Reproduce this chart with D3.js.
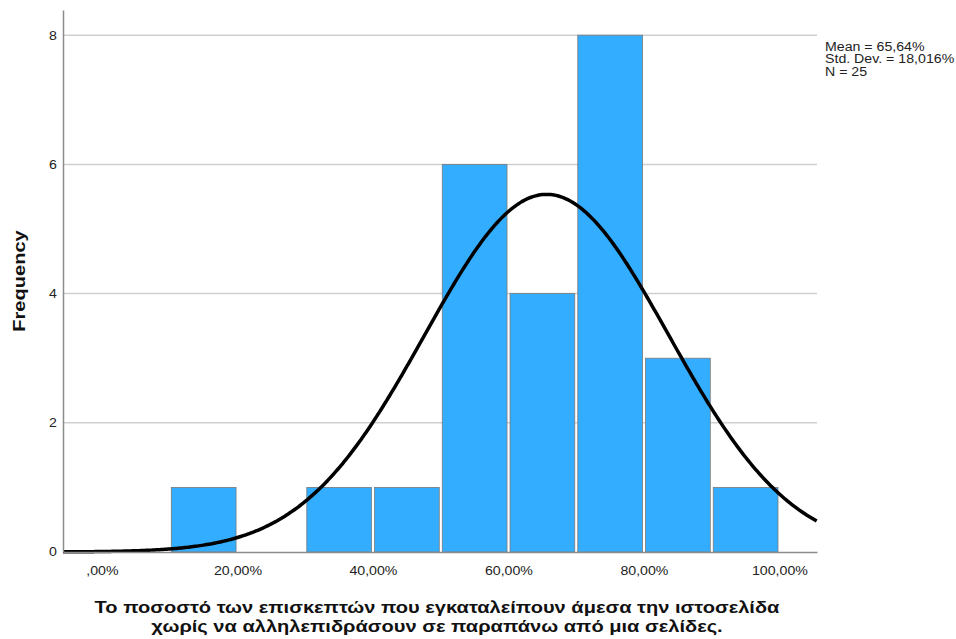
<!DOCTYPE html>
<html lang="el">
<head>
  <meta charset="UTF-8">
  <title>Histogram</title>
  <script src="https://d3js.org/d3.v7.min.js"></script>
  <style>
    body { margin: 0; background: #fff; font-family: "Liberation Sans", Arial, sans-serif; }
    .tick text { font-size: 12px; fill: #222; font-family: "Liberation Sans", Arial, sans-serif; }
    .axis-title { font-size: 17px; font-weight: bold; fill: #111; }
    .stats { font-size: 12px; fill: #222; }
  </style>
</head>
<body>
  <svg width="956" height="639"></svg>
  <script>
    // bins of 10% and their counts
    var binStarts = [0, 10, 20, 30, 40, 50, 60, 70, 80, 90];
    var counts    = [0, 1, 0, 1, 1, 6, 4, 8, 3, 1];
    var binWidth = 10;
    var mean = 65.64, stdDev = 18.016, n = 25;
    var xTicks = [0, 20, 40, 60, 80, 100];
    var yTicks = [0, 2, 4, 6, 8];
    var statLines = ["Mean = 65,64%", "Std. Dev. = 18,016%", "N = 25"];
    var titleLines = [
      "Το ποσοστό των επισκεπτών που εγκαταλείπουν άμεσα την ιστοσελίδα",
      "χωρίς να αλληλεπιδράσουν σε παραπάνω από μια σελίδες."
    ];

    var svg = d3.select("svg"),
        plotL = 63, plotR = 817, plotT = 10, plotB = 552,
        stretch = 1.18;  // the original text is a bit wider than Arial

    function widen(sel) {
      sel.each(function() {
        var w = this.getComputedTextLength();
        d3.select(this).attr("textLength", w * stretch).attr("lengthAdjust", "spacingAndGlyphs");
      });
    }

    var x = d3.scaleLinear().domain([-5.75, 105.55]).range([plotL, plotR]);
    var y = d3.scaleLinear().domain([0, 8.39]).range([plotB, plotT]);

    // gridlines
    svg.append("g").selectAll("line")
      .data(yTicks.filter(function(d) { return d > 0; }))
      .enter().append("line")
      .attr("x1", plotL).attr("x2", plotR)
      .attr("y1", function(d) { return y(d); })
      .attr("y2", function(d) { return y(d); })
      .attr("stroke", "#cfcfcf").attr("stroke-width", 1.5);

    // bars
    var bins = binStarts.map(function(s, i) { return {lo: s, hi: s + binWidth, c: counts[i]}; })
      .filter(function(d) { return d.c > 0; });
    svg.append("g").selectAll("rect")
      .data(bins)
      .enter().append("rect")
      .attr("x", function(d) { return x(d.lo) + 1.6; })
      .attr("width", function(d) { return x(d.hi) - x(d.lo) - 3; })
      .attr("y", function(d) { return y(d.c); })
      .attr("height", function(d) { return y(0) - y(d.c); })
      .attr("fill", "#33adff")
      .attr("stroke", "#7a7a7a").attr("stroke-width", 0.8);

    // fitted normal curve
    var peak = n * binWidth / (stdDev * Math.sqrt(2 * Math.PI));
    var curvePts = d3.range(x.domain()[0], x.domain()[1] + 0.01, 0.25).map(function(v) {
      var z = (v - mean) / stdDev;
      return [v, peak * Math.exp(-0.5 * z * z)];
    });
    svg.append("path")
      .datum(curvePts)
      .attr("fill", "none")
      .attr("stroke", "#000")
      .attr("stroke-width", 3.5)
      .attr("d", d3.line().x(function(d) { return x(d[0]); }).y(function(d) { return y(d[1]); }));

    // axes
    var xAxis = svg.append("g")
      .attr("transform", "translate(0," + plotB + ")")
      .call(d3.axisBottom(x).tickValues(xTicks).tickSize(0).tickPadding(14)
        .tickFormat(function(d) { return d === 0 ? ",00%" : d + ",00%"; }));
    xAxis.select(".domain").attr("stroke", "#8c8c8c").attr("stroke-width", 1.5);
    xAxis.selectAll("text").call(widen);

    var yAxis = svg.append("g")
      .attr("transform", "translate(" + plotL + ",0)")
      .call(d3.axisLeft(y).tickValues(yTicks).tickSize(0).tickPadding(6));
    yAxis.select(".domain").attr("stroke", "#8c8c8c").attr("stroke-width", 1.5);
    yAxis.selectAll("text").call(widen);

    // axis titles
    svg.append("text")
      .attr("class", "axis-title")
      .attr("transform", "translate(25,281) rotate(-90)")
      .attr("text-anchor", "middle")
      .text("Frequency")
      .call(widen);

    svg.append("g").selectAll("text")
      .data(titleLines)
      .enter().append("text")
      .attr("class", "axis-title")
      .attr("x", 437)
      .attr("y", function(d, i) { return 613 + i * 19; })
      .attr("text-anchor", "middle")
      .text(function(d) { return d; })
      .call(widen);

    // stats box
    svg.append("g").selectAll("text")
      .data(statLines)
      .enter().append("text")
      .attr("class", "stats")
      .attr("x", 825)
      .attr("y", function(d, i) { return 50.5 + i * 12.6; })
      .text(function(d) { return d; })
      .call(widen);
  </script>
</body>
</html>
